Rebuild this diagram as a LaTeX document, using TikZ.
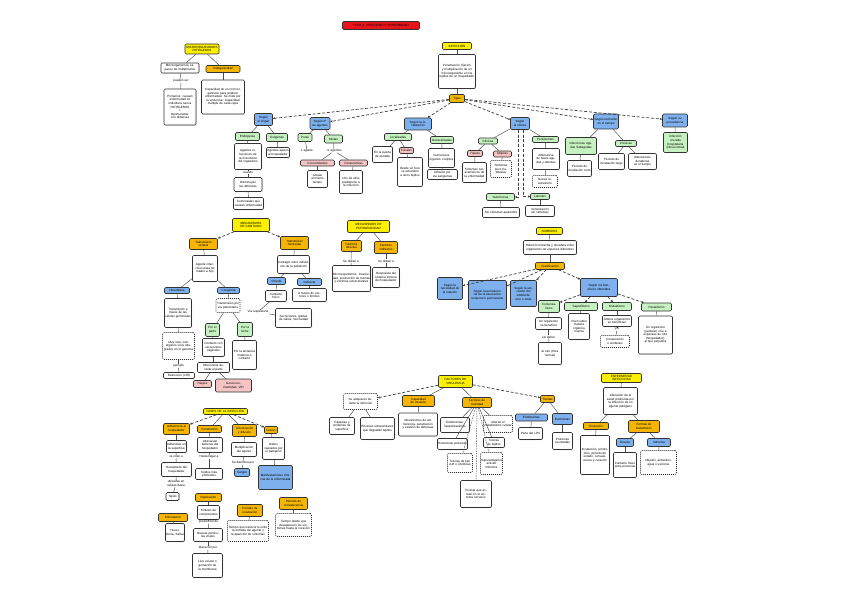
\documentclass[tikz,border=0pt]{standalone}
\usepackage{fontspec}
\setmainfont{Liberation Sans}
\usetikzlibrary{arrows.meta,shadows}
\definecolor{cyel}{RGB}{255,240,0}
\definecolor{corg}{RGB}{246,182,0}
\definecolor{cblu}{RGB}{125,176,236}
\definecolor{cgrn}{RGB}{198,241,192}
\definecolor{cpnk}{RGB}{244,196,196}
\definecolor{cred}{RGB}{232,20,28}
\newcommand\bx[7]{\node[#1,text width=#5pt,minimum height=#6pt] (#2) at (#3,#4) {#7};}
\tikzset{
  every node/.style={font=\fontsize{3.05}{3.6}\selectfont,align=center,inner xsep=0.5pt,inner ysep=0.4pt},
  base/.style={draw=black!80,line width=0.55pt,rounded corners=1.2pt},
  yel/.style={base,fill=cyel},
  org/.style={base,fill=corg},
  blu/.style={base,fill=cblu},
  grn/.style={base,fill=cgrn},
  pnk/.style={base,fill=cpnk},
  redb/.style={base,fill=cred},
  wht/.style={base,fill=white,drop shadow={shadow xshift=0.6pt,shadow yshift=-0.6pt,fill=black!30}},
  dsh/.style={base,fill=white,dashed,dash pattern=on 1pt off 1pt},
  txt/.style={inner sep=0.3pt},
  ln/.style={draw=black!70,line width=0.45pt},
  dln/.style={draw=black!70,line width=0.45pt,dash pattern=on 1.5pt off 1pt},
  darr/.style={draw=black!75,line width=0.7pt,dash pattern=on 3pt off 1.8pt,-{Stealth[length=2.4pt,width=2.2pt]}},
}
\begin{document}
\begin{tikzpicture}[x=1pt,y=-1pt]
\useasboundingbox[fill=white] (0,0) rectangle (848,599);
% ---------- Block A
\bx{yel}{a0}{202}{49}{33}{10}{MICROORGANISMOS PATÓGENOS}
\bx{wht}{a1}{180}{68}{37}{10}{Microorganismos capaces de multiplicarse}
\bx{org}{a2}{223}{69}{33}{7}{Patogenicidad}
\node[txt] (a3) at (181,81) {pueden ser};
\bx{wht}{a4}{180}{107}{31}{36}{Primarios: causan enfermedad en individuos sanos\\PATÓGENOS\\+\\Oportunistas: con defensas}
\bx{wht}{a5}{223}{97}{42}{34}{Capacidad de un microorganismo para producir enfermedad. Se mide por la virulencia: Capacidad múltiple de cada cepa}
% ---------- Block B
\bx{redb}{t0}{381}{25.5}{76}{8}{TEMA 4: INFECCIÓN Y ENFERMEDAD}
\bx{yel}{b0}{457}{46}{28}{7}{INFECCIÓN}
\bx{wht}{b1}{457}{71.5}{36}{34}{Penetración, fijación y multiplicación de un microorganismo en los tejidos de un hospedador}
\bx{org}{b2}{457}{98.5}{14}{8}{Tipos}
\bx{blu}{s1}{263.5}{119.5}{17}{12}{Según el origen}
\bx{blu}{s2}{320}{123.5}{19}{12}{Según nº de agentes}
\bx{blu}{s3}{418}{124}{26}{12}{Según la localización}
\bx{blu}{s4}{520}{123.5}{18}{12}{Según la clínica}
\bx{blu}{s5}{606}{121.5}{24}{15}{Según evolución en el tiempo}
\bx{blu}{s6}{675}{120.5}{24}{13}{Según su procedencia}
% s1
\bx{grn}{g11}{247.5}{136.5}{23}{8}{Endógenas}
\bx{grn}{g12}{277}{137.5}{20}{8}{Exógenas}
\bx{wht}{w11}{248}{156.5}{26}{26}{Agentes infecciosos de la microbiota del organismo}
\node[txt] (p11) at (248,172) {cuando};
\bx{wht}{w12}{248}{184.5}{27}{14}{Disminuyen las defensas}
\bx{wht}{w13}{248.5}{203.5}{29}{12}{Comensales que causan enfermedad}
\bx{wht}{w14}{278}{152.5}{22}{10}{Agentes ajenos al hospedador}
% s2
\bx{grn}{g21}{305}{137.5}{13}{8}{Puras}
\bx{grn}{g22}{333.5}{139}{17}{8}{Mixtas}
\node[txt] (t21) at (307,151) {1 agente};
\node[txt] (t22) at (334,151) {+1 agentes};
\bx{pnk}{k21}{317.5}{163}{33}{6}{Concomitantes}
\bx{pnk}{k22}{353.5}{163}{27}{6}{Consecutivas}
\bx{wht}{w21}{317.5}{179}{19}{17}{Actúan al mismo tiempo}
\bx{wht}{w22}{351}{182}{22}{23}{Uno de ellos predispone a la infección}
% s3
\bx{grn}{g31}{398}{137}{26}{7}{Localizadas}
\bx{grn}{g32}{442}{140}{22}{7}{Generalizadas}
\bx{wht}{w31}{382.5}{154.5}{19}{16}{En la puerta de entrada}
\bx{pnk}{k31}{406.5}{150.5}{13}{6}{Focales}
\bx{wht}{w32}{410}{172}{24}{29}{Desde un foco se extienden a otros tejidos}
\bx{wht}{w33}{441.5}{158}{25}{19}{Numerosos órganos o tejidos}
\bx{wht}{w34}{442.5}{174.5}{29}{10}{Difusión por vía sanguínea}
% s4
\bx{grn}{g41}{488}{141}{18}{6}{Clínicas}
\bx{pnk}{k41}{475}{153.5}{14}{6}{Típicas}
\bx{pnk}{k42}{502.5}{154}{17}{6}{Atípicas}
\bx{wht}{w41}{474.5}{172.5}{23}{20}{Síntomas característicos de la enfermedad}
\bx{dsh}{w42}{501}{169}{20}{17}{Síntomas poco habituales}
\bx{grn}{g42}{500.5}{197}{27}{7}{Subclínicas}
\bx{wht}{w43}{501}{212.5}{36}{10}{Sin síntomas aparentes}
\bx{grn}{g43}{545.5}{139.5}{25}{6}{Persistentes}
\bx{wht}{w44}{546}{159}{26}{21}{Alternancia de fases agudas y latentes}
\bx{dsh}{w45}{545}{181.5}{24}{12}{Nueva reactivación}
\bx{grn}{g44}{540}{196.5}{18}{6}{Latentes}
\bx{wht}{w46}{540}{211}{28}{11}{Colonización sin síntomas}
% s5, s6
\bx{grn}{g51}{581}{146}{30}{17}{Infecciones Agudas Subagudas}
\bx{wht}{w51}{579.5}{168.5}{23}{16}{Periodo de incubación corto}
\bx{grn}{g52}{626}{143.5}{20}{6}{Crónicas}
\bx{wht}{w52}{611.5}{161.5}{25}{16}{Periodo de incubación largo}
\bx{wht}{w53}{642.5}{161.5}{27}{16}{Alteraciones duraderas en el tiempo}
\bx{grn}{g61}{675.5}{142.5}{23}{20}{Infección cruzada hospitalaria (Nosocomial)}
% ---------- Block C
\bx{yel}{c0}{251}{225}{36}{13}{MECANISMOS DE CONTAGIO}
\bx{org}{c1}{203.5}{244}{27}{11}{Transmisión vertical}
\bx{org}{c2}{294.5}{243}{27}{13}{Transmisión horizontal}
\bx{wht}{c3}{205}{268.5}{24}{26}{Agente infeccioso pasa de madre a hijo}
\bx{wht}{c4}{293.5}{264.5}{31}{18}{Contagio entre individuos de la población}
\bx{blu}{c5}{177}{290.5}{24}{6}{Hereditaria}
\bx{blu}{c6}{228.5}{290.5}{21}{6}{Congénita}
\bx{blu}{c7}{276.5}{281}{17}{7}{Directa}
\bx{blu}{c8}{309.5}{282}{23}{7}{Indirecta}
\bx{wht}{c9}{178}{313}{26}{29}{Transmisión a través de las células germinales}
\bx{dsh}{c10}{228}{305.5}{23}{14}{Transmisión por vía placentaria}
\bx{wht}{c11}{276}{296}{20}{11}{Contacto físico}
\bx{wht}{c12}{309.5}{295}{33}{13}{A través de vectores o fómites}
\node[txt] (c13) at (258,312) {Vía respiratoria};
\bx{wht}{c14}{293.5}{318}{35}{19}{Secreciones, gotitas de saliva, mucosidad}
\bx{grn}{c15}{212.5}{330}{13}{13}{Por el parto}
\bx{grn}{c16}{245}{329.5}{14}{14}{Por la leche}
\bx{dsh}{c17}{178.5}{346}{31}{27}{Muy rara, solo algunos virus integrados en el genoma}
\node[txt] (c18) at (178.5,366) {ejemplo};
\bx{wht}{c19}{179}{375.5}{30}{6}{Retrovirus (VIH)}
\bx{wht}{c20}{213.5}{347.5}{21}{18}{Contacto con secreciones vaginales}
\bx{wht}{c21}{244.5}{355}{23}{29}{Por la lactancia materna o contacto}
\bx{wht}{c22}{213.5}{367.5}{31}{10}{Infecciones durante el parto}
\bx{pnk}{c23}{202.5}{384}{17}{7}{Herpes}
\bx{pnk}{c24}{233.5}{385.5}{35}{13}{Gonococo, Clamidias, VIH}
% ---------- Block D
\bx{yel}{d0}{368.5}{226.5}{41}{12}{MECANISMOS DE PATOGENICIDAD}
\bx{org}{d1}{351.5}{246}{19}{11}{Factores directos}
\bx{org}{d2}{386}{247.5}{22}{12}{Factores indirectos}
\node[txt] (d3) at (351,261) {Se deben a};
\node[txt] (d4) at (386,261) {Se deben a};
\bx{wht}{d5}{351.5}{278.5}{37}{26}{Microorganismos: invasividad, producción de toxinas y enzimas extracelulares}
\bx{wht}{d6}{386}{277.5}{26}{20}{Respuesta del sistema inmune del hospedador}
% ---------- Block E
\bx{yel}{e0}{549.5}{231}{25}{7}{SIMBIOSIS}
\bx{wht}{e1}{550}{247.5}{52}{14}{Relación estrecha y duradera entre organismos de especies diferentes}
\bx{org}{e2}{550}{266}{28}{7}{Clasificación}
\bx{blu}{e3}{450}{288.5}{24}{22}{Según la necesidad de la relación}
\bx{blu}{e4}{487.5}{295}{37}{29}{Según la permanencia de la asociación: temporal o permanente}
\bx{blu}{e5}{523.5}{293.5}{25}{26}{Según la ubicación del simbionte: ecto o endo}
\bx{blu}{e6}{599}{287.5}{36}{18}{Según los beneficios obtenidos}
\bx{grn}{e7}{549}{306.5}{20}{12}{Comensa-lismo}
\bx{grn}{e8}{581}{306.5}{32}{8}{Saprofitismo}
\bx{grn}{e9}{617}{306.5}{28}{8}{Mutualismo}
\bx{grn}{e10}{656.5}{307}{29}{8}{Parasitismo}
\bx{wht}{e11}{548.5}{323.5}{25}{12}{Un organismo se beneficia}
\node[txt] (e12) at (548.5,337) {sin dañar};
\bx{wht}{e13}{550}{353.5}{22}{22}{al otro (flora normal)}
\bx{wht}{e14}{579}{326.5}{20}{26}{Viven sobre materia orgánica muerta}
\bx{wht}{e15}{617}{321}{28}{11}{Ambos organismos se benefician}
\node[txt] (e16) at (617,329) {y/o};
\bx{dsh}{e17}{615}{341.5}{28}{12}{Cooperación o simbiosis}
\bx{wht}{e18}{655.5}{335}{33}{38}{Un organismo (parásito) vive a expensas de otro (hospedador), al que perjudica}
% ---------- Block F
\bx{yel}{f0}{225.5}{411.5}{43}{6}{FASES DE LA INFECCIÓN}
\bx{org}{f1}{176.5}{429}{25}{11}{Adherencia al hospedador}
\bx{org}{f2}{209.5}{429}{23}{7}{Penetración}
\bx{org}{f3}{244.5}{430.5}{23}{12}{Colonización y difusión}
\bx{org}{f4}{271}{430}{12}{7}{Lesión}
\bx{wht}{f5}{176.5}{446.5}{19}{12}{Adhesinas en la superficie}
\node[txt] (f6) at (176,457) {se unen a};
\bx{wht}{f7}{176.5}{469.5}{29}{14}{Receptores del hospedador}
\node[txt] (f8) at (176,483.5) {ubicados en\\células diana};
\bx{wht}{f9}{172.5}{496.5}{12}{8}{Tejido}
\bx{wht}{f10}{210}{445}{24}{15}{Atraviesan barreras del hospedador}
\node[txt] (f11) at (209,457) {Hasta llegar a};
\bx{wht}{f12}{209}{474}{26}{11}{Tejidos más profundos}
\bx{wht}{f13}{244}{449.5}{24}{14}{Multiplicación del agente}
\node[txt] (f14) at (243,463) {Se disemina por};
\bx{blu}{f15}{242}{472.5}{14}{8}{Sangre}
\bx{wht}{f16}{273.5}{448.5}{21}{22}{Daños causados por el patógeno}
\bx{blu}{f17}{275.5}{477.5}{33}{24}{Manifestaciones clínicas de la enfermedad}
\bx{org}{f18}{208.5}{497.5}{25}{8}{Replicación}
\bx{wht}{f19}{208.5}{512.5}{21}{14}{Síntesis de componentes}
\node[txt] (f20) at (208.5,522) {producción de};
\bx{wht}{f21}{208}{535}{28}{13}{Nuevas partículas virales}
\node[txt] (f22) at (208,548) {liberación por};
\bx{wht}{f23}{207.5}{565.5}{29}{24}{Lisis celular o gemación de la membrana}
\bx{org}{f24}{173}{517.5}{28}{8}{Eliminación}
\bx{wht}{f25}{175}{532.5}{18}{18}{Heces, Orina, Saliva}
\bx{org}{f26}{250}{510.5}{24}{12}{Período de incubación}
\bx{dsh}{f27}{248}{531}{40}{21}{Tiempo que transcurre entre la entrada del agente y la aparición de síntomas}
\bx{org}{f28}{293.5}{503.5}{27}{12}{Período de convalecencia}
\bx{dsh}{f29}{293.5}{525}{35}{23}{Tiempo desde que desaparecen los síntomas hasta la curación}
% ---------- Block V
\bx{yel}{v0}{455.5}{381.5}{33}{12}{FACTORES DE VIRULENCIA}
\bx{dsh}{v1}{360.5}{401.5}{33}{16}{Se adquieren durante la infección}
\bx{org}{v2}{418.5}{401}{31}{11}{Capacidad de invasión}
\bx{org}{v3}{477}{402.5}{28}{10}{Factores de toxicidad}
\bx{wht}{v4}{342}{426}{24}{17}{Cápsulas y proteínas de superficie}
\bx{wht}{v5}{377.5}{428.5}{33}{22}{Enzimas extracelulares que degradan tejidos}
\bx{wht}{v6}{418}{424.5}{38}{23}{Mecanismos de adherencia, penetración y evasión de defensas}
\bx{wht}{v7}{455}{425}{28}{15}{Endotoxinas: lipopolisacárido}
\bx{wht}{v8}{452.5}{444}{29}{11}{Exotoxinas proteicas}
\bx{dsh}{v9}{460}{463}{24}{19}{Toxinas de tipo A-B o citolíticas}
\bx{wht}{v10}{476}{494}{30}{27}{Toxinas que actúan en el sistema nervioso}
\bx{dsh}{v11}{498}{424}{28}{17}{Alteran el metabolismo celular}
\bx{wht}{v12}{494}{442.5}{20}{10}{Toxinas de tejidos}
\bx{dsh}{v13}{491.5}{463.5}{21}{22}{Superantígenos activan linfocitos}
\bx{org}{v14}{547.5}{399}{13}{7}{Toxinas}
\bx{blu}{v15}{531.5}{417.5}{31}{7}{Endotoxinas}
\bx{blu}{v16}{562.5}{419}{19}{11}{Exotoxinas}
\bx{wht}{v17}{530.5}{433.5}{23}{12}{Parte del LPS}
\bx{wht}{v18}{562.5}{441}{19}{17}{Proteínas secretadas}
% ---------- Block H
\bx{yel}{h0}{621.5}{378}{39}{9}{ENFERMEDAD INFECCIOSA}
\bx{wht}{h1}{620.5}{401}{33}{27}{Alteración de la salud producida por la infección de un agente patógeno}
\bx{org}{h2}{596}{426}{24}{7}{Evolución}
\bx{org}{h3}{644}{426.5}{30}{12}{Formas de transmisión}
\bx{wht}{h4}{595}{455}{28}{39}{Incubación, pródromos, periodo de estado, convalecencia y curación}
\bx{blu}{h5}{625}{442.5}{16}{8}{Directa}
\bx{blu}{h6}{659}{442.5}{22}{8}{Indirecta}
\bx{wht}{h7}{625}{465}{22}{25}{Contacto físico entre personas}
\bx{dsh}{h8}{658.5}{462.5}{35}{24}{Objetos, alimentos, agua o vectores}
% ---------- connectors
\foreach \p/\q in {a0/a1,a0/a2,a1/a3,a3/a4,a2/a5,
  b0/b1,b1/b2,s1/g11,s1/g12,g11/w11,w11/p11,p11/w12,w12/w13,g12/w14,
  s2/g21,s2/g22,g21/t21,g22/t22,t22/k21,t22/k22,k21/w21,k22/w22,
  s3/g31,s3/g32,g31/w31,g31/k31,k31/w32,g32/w33,w33/w34,
  s4/g41,s4/g43,g41/k41,g41/k42,k41/w41,k42/w42,g42/w43,g44/w46,g43/w44,w44/w45,
  s5/g51,s5/g52,g51/w51,g52/w52,g52/w53,s6/g61,
  c1/c3,c3/c5,c3/c6,c2/c4,c4/c7,c4/c8,c5/c9,c9/c17,c17/c18,c18/c19,c6/c10,c10/c15,c10/c16,
  c7/c11,c11/c13,c13/c14,c8/c12,c15/c20,c20/c22,c22/c23,c22/c24,c16/c21,
  d0/d1,d0/d2,d1/d3,d3/d5,d2/d4,d4/d6,
  e0/e1,e1/e2,e7/e11,e11/e12,e12/e13,e8/e14,e9/e15,e15/e16,e16/e17,e10/e18,
  f0/f2,f0/f3,f1/f5,f5/f6,f6/f7,f7/f8,f8/f9,f2/f10,f10/f11,f11/f12,f3/f13,f13/f14,f14/f15,f4/f16,f16/f17,
  f18/f19,f19/f20,f20/f21,f21/f22,f22/f23,f24/f25,f26/f27,f28/f29,
  v0/v2,v0/v3,v1/v4,v1/v5,v2/v6,v3/v7,v3/v8,v3/v11,v3/v12,v14/v15,v14/v16,v15/v17,v16/v18,
  h0/h1,h1/h2,h1/h3,h2/h4,h3/h5,h3/h6,h5/h7,h6/h8}
  \draw[ln] (\p) -- (\q);
\foreach \p/\q in {v3/v9,v3/v10,v3/v13}
  \draw[dln] (\p) -- (\q);
\foreach \p/\q in {b2/s1,b2/s2,b2/s3,b2/s4,b2/s5,b2/s6,c0/c1,c0/c2,
  e2/e3,e2/e4,e2/e5,e2/e6,e6/e7,e6/e8,e6/e9,e6/e10,f0/f1,f0/f4,v0/v1,v0/v14}
  \draw[darr] (\p) -- (\q);
\draw[darr] ([xshift=-2pt]s4.south) |- (g42.east);
\draw[darr] ([xshift=3pt]s4.south) |- (g44.west);
\end{tikzpicture}
\end{document}
